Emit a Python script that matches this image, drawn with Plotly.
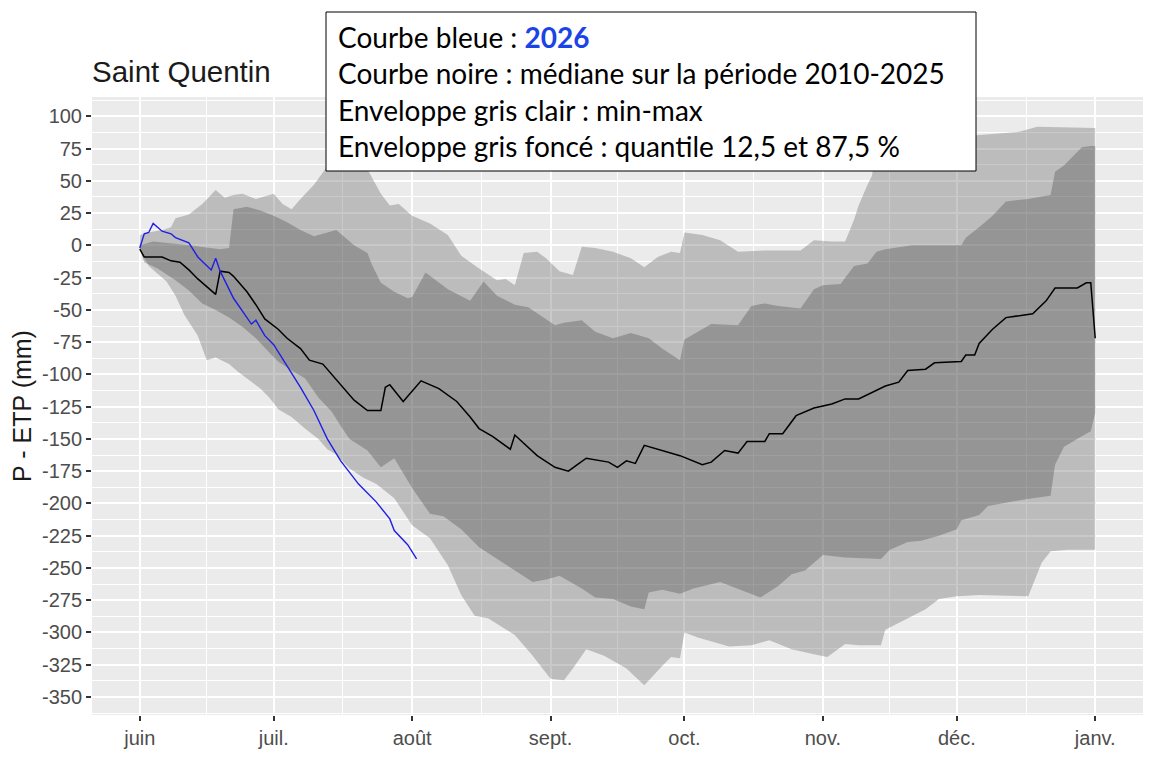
import pandas as pd
import plotly.graph_objects as go

# ---------------- data (days since 1 June, values in mm) ----------------
START = "2026-06-01"
END = "2027-01-01"
month_labels = ["juin", "juil.", "août", "sept.", "oct.", "nov.", "déc.", "janv."]

max_days = [0, 2, 5, 7, 8, 11, 14, 17, 19, 21, 23, 26, 30, 32, 34, 36, 39, 41, 43, 45,
            48, 51, 54, 56, 58, 61, 65, 69, 72, 76, 80, 82, 84, 86, 89, 91, 94, 97, 99, 102,
            106, 110, 113, 116, 119, 121, 122, 126, 130, 134, 140, 148, 151, 155, 158, 160,
            161, 163, 164, 165, 170, 180, 185, 186, 197, 201, 213, 214]
max_vals = [8, 10, 12, 14, 21, 24, 32, 43, 37, 39, 40, 36, 40, 32, 28, 36, 47, 57, 66, 71,
            66, 59, 40, 31, 32, 23, 17, 8, -8, -18, -27, -26, -31, -6, -5, -10, -20, -23, -1, -2,
            -5, -10, -17, -9, -5, -6, 10, 8, 4, -5, -4, -4, 4, 3, 3, 20,
            31, 47, 54, 77, 77, 76, 76, 85, 88, 92, 91, 91]

q875_days = [0, 3, 11, 18, 20, 21, 24, 27, 30, 33, 36, 39, 42, 44, 48, 51, 52, 54, 57, 60,
             61, 64, 69, 74, 77, 80, 84, 87, 93, 95, 99, 102, 106, 110, 114, 117, 121, 122, 125, 128,
             134, 137, 140, 143, 148, 151, 153, 157, 158, 160, 163, 165, 167, 173, 184, 185, 188, 191,
             194, 199, 204, 205, 207, 211, 213, 214]
q875_vals = [0, 3, 0, -3, -2, 28, 30, 27, 23, 18, 12, 7, 10, 12, 0, -6, -15, -29, -36, -41,
             -40, -21, -34, -43, -28, -39, -46, -48, -62, -60, -58, -67, -72, -68, -72, -80, -89, -73, -67, -61,
             -62, -47, -45, -47, -49, -34, -31, -30, -25, -16, -14, -5, -3, 0, 0, 6, 14, 23,
             34, 36, 39, 57, 62, 76, 77, 77]

med_days = [0, 1, 5, 7, 9, 11, 13, 15, 17, 18, 20, 21, 24, 26, 28, 31, 33, 36, 38, 41,
            43, 45, 48, 51, 54, 55, 56, 59, 63, 67, 71, 74, 76, 79, 83, 84, 89, 93, 96, 98,
            100, 105, 107, 109, 111, 113, 118, 121, 126, 128, 131, 134, 136, 140, 141, 144, 147, 151,
            155, 158, 161, 164, 167, 170, 172, 176, 178, 184, 185, 187, 188, 191, 194, 200, 203, 205,
            210, 212, 213, 214]
med_vals = [-3, -9, -9, -12, -13, -19, -26, -32, -38, -20, -21, -24, -36, -46, -57, -65, -72, -80, -89, -92,
            -100, -108, -120, -128, -128, -110, -108, -121, -105, -111, -121, -133, -142, -148, -158, -147,
            -163, -172, -175, -170, -165, -168, -172, -167, -169, -155, -160, -163, -170, -168, -159, -161,
            -152, -152, -146, -146, -132, -126, -123, -119, -119, -114, -109, -106, -97, -96, -91, -90, -85,
            -85, -76, -65, -56, -53, -43, -33, -33, -29, -29, -72]

q125_days = [0, 1, 4, 8, 11, 14, 17, 20, 23, 26, 29, 31, 34, 37, 40, 43, 45, 47, 51, 54,
             57, 61, 65, 68, 72, 76, 80, 84, 88, 91, 94, 99, 102, 106, 110, 113, 114, 117, 121, 124,
             130, 139, 143, 146, 149, 153, 158, 166, 168, 172, 175, 179, 183, 184, 188, 190, 198, 204,
             205, 207, 211, 213, 214]
q125_vals = [-3, -13, -18, -27, -35, -45, -50, -56, -63, -72, -83, -90, -97, -103, -118, -129, -140, -150,
             -159, -172, -165, -188, -208, -210, -220, -234, -243, -252, -261, -259, -256, -266, -273, -274,
             -280, -282, -269, -267, -270, -266, -261, -273, -264, -255, -252, -240, -242, -243, -236, -230,
             -229, -225, -220, -213, -209, -202, -197, -194, -170, -156, -148, -144, -130]

min_days = [0, 2, 6, 8, 10, 13, 15, 17, 20, 22, 25, 27, 29, 31, 34, 37, 40, 42, 44, 47,
            50, 53, 57, 61, 65, 69, 72, 75, 78, 84, 88, 92, 95, 97, 100, 104, 109, 113, 117, 119,
            121, 122, 125, 132, 137, 141, 146, 151, 154, 158, 161, 166, 167, 172, 176, 179, 183, 188,
            199, 202, 204, 208, 214]
min_vals = [-3, -16, -28, -39, -54, -70, -89, -87, -92, -98, -106, -111, -118, -127, -133, -142, -150,
            -158, -162, -173, -180, -185, -196, -217, -227, -248, -271, -287, -289, -302, -318, -336,
            -337, -328, -313, -318, -328, -341, -326, -319, -320, -300, -304, -311, -310, -306, -313,
            -317, -319, -309, -310, -310, -298, -289, -282, -274, -272, -271, -272, -246, -237, -236, -236]

blue_days = [0, 1, 2, 3, 5, 7, 8, 11, 13, 16, 17, 18, 21, 25, 26, 28, 30, 33, 36, 39,
             42, 45, 49, 53, 56, 57, 60, 62]
blue_vals = [-2, 9, 10, 17, 11, 9, 6, 2, -9, -19, -10, -20, -41, -61, -58, -70, -77, -93, -110, -128,
             -150, -167, -185, -199, -212, -221, -232, -243]

y_ticks = list(range(100, -351, -25))

# ---------------- helpers ----------------
start = pd.Timestamp(START)
end = pd.Timestamp(END)


def to_dates(days):
    return [start + pd.Timedelta(days=int(d)) for d in days]


def band(up_days, up_vals, lo_days, lo_vals):
    xs = to_dates(up_days) + to_dates(lo_days)[::-1]
    ys = list(up_vals) + list(lo_vals)[::-1]
    return xs, ys


month_starts = list(pd.date_range(start, end, freq="MS"))
minor_x = [a + (b - a) / 2 for a, b in zip(month_starts[:-1], month_starts[1:])]
minor_y = [v + 12.5 for v in range(-375, 101, 25)]

span = end - start
pad = span * 0.05
x_range = [start - pad, end + pad]

fig = go.Figure()

bx, by = band(max_days, max_vals, min_days, min_vals)
fig.add_trace(go.Scatter(x=bx, y=by, fill="toself", mode="lines", line=dict(width=0),
                         fillcolor="rgba(100,100,100,0.35)", hoverinfo="skip", showlegend=False))
bx, by = band(q875_days, q875_vals, q125_days, q125_vals)
fig.add_trace(go.Scatter(x=bx, y=by, fill="toself", mode="lines", line=dict(width=0),
                         fillcolor="rgba(70,70,70,0.33)", hoverinfo="skip", showlegend=False))
fig.add_trace(go.Scatter(x=to_dates(med_days), y=med_vals, mode="lines",
                         line=dict(color="black", width=1.5), showlegend=False))
fig.add_trace(go.Scatter(x=to_dates(blue_days), y=blue_vals, mode="lines",
                         line=dict(color="#1f1fe6", width=1.4), showlegend=False))

tick_font = dict(family="Liberation Sans, Arial, sans-serif", size=20, color="#4D4D4D")

# the page body adds an 8px margin, so the figure is 1144x756
W, H = 1144, 756
pl, pt, pw, ph = 84, 89, 1051, 618

fig.update_layout(
    width=W, height=H,
    margin=dict(l=pl, r=W - pl - pw, t=pt, b=H - pt - ph),
    paper_bgcolor="white",
    plot_bgcolor="#EBEBEB",
    showlegend=False,
    title=dict(text="Saint Quentin", x=84 / W, xanchor="left", xref="container",
               y=1 - 64 / H, yanchor="middle", yref="container",
               font=dict(family="Liberation Sans, Arial, sans-serif", size=29.5, color="#1a1a1a")),
    xaxis=dict(
        type="date", range=x_range,
        tickmode="array", tickvals=month_starts, ticktext=month_labels,
        ticks="outside", ticklen=5, tickwidth=2, tickcolor="#333333",
        tickfont=tick_font,
        showgrid=True, gridcolor="white", gridwidth=2,
        minor=dict(tickvals=minor_x, showgrid=True, gridcolor="white", gridwidth=1, ticks=""),
        zeroline=False, showline=False,
    ),
    yaxis=dict(
        range=[-364, 115],
        tickmode="array", tickvals=y_ticks, ticktext=[str(v) for v in y_ticks],
        ticks="outside", ticklen=5, tickwidth=2, tickcolor="#333333",
        tickfont=tick_font,
        showgrid=True, gridcolor="white", gridwidth=2,
        minor=dict(tickvals=minor_y, showgrid=True, gridcolor="white", gridwidth=1, ticks=""),
        zeroline=False, showline=False,
        title=dict(text="P - ETP (mm)", standoff=4,
                   font=dict(family="Liberation Sans, Arial, sans-serif", size=25, color="#1a1a1a")),
    ),
)


# screen pixel (window coords) -> paper coords
def px(x):
    return (x - 8 - pl) / pw


def py(y):
    return (pt + ph - (y - 8)) / ph


fig.add_shape(type="rect", xref="paper", yref="paper",
              x0=px(326), x1=px(976), y0=py(171), y1=py(12),
              fillcolor="white", line=dict(color="black", width=1), layer="above")

box_text = ("Courbe bleue : <b><span style='color:#1a44e6'>2026</span></b><br>"
            "Courbe noire : médiane sur la période 2010-2025<br>"
            "Enveloppe gris clair : min-max<br>"
            "Enveloppe gris foncé : quantile 12,5 et 87,5 %")
fig.add_annotation(text=box_text, xref="paper", yref="paper", x=px(336), y=py(92),
                   xanchor="left", yanchor="middle", align="left", showarrow=False,
                   font=dict(family="Lato, Carlito, sans-serif", size=28, color="black"))

fig.write_html("out.html")
